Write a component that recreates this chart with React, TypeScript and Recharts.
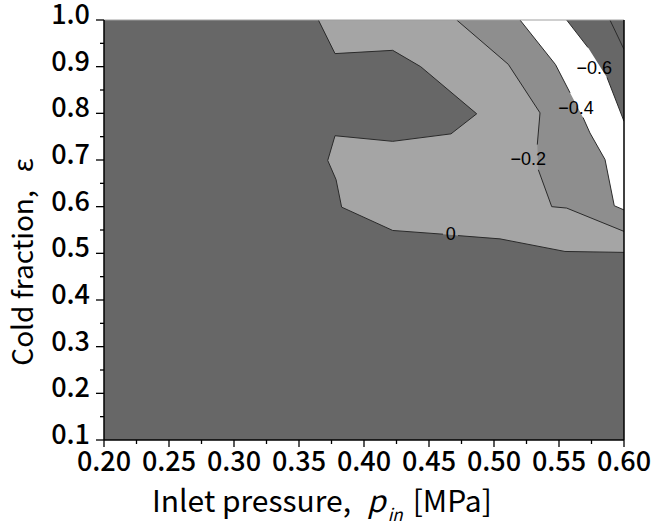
import React from "react";
import {
  ComposedChart,
  Area,
  Line,
  Scatter,
  XAxis,
  YAxis,
  CartesianGrid,
  ReferenceLine,
  Label,
} from "recharts";

// Contour map of the cold-side temperature difference over inlet pressure
// and cold fraction. Each level line is read off the figure as (p, eps)
// vertices; a null eps leaves a gap where the level label sits.

const FONT = '"Noto Sans CJK JP", "Noto Sans", sans-serif';
const LABEL_FONT = '"Liberation Sans", Arial, sans-serif';

const DARK = "#676767";
const LIGHT = "#a5a5a5";
const MID = "#8e8e8e";
const WHITE = "#ffffff";
const LINE = "#2a2a2a";

type Pt = { p: number; e: number | null };

const level0: Pt[] = [
  { p: 0.3649, e: 1.0 },
  { p: 0.3777, e: 0.928 },
  { p: 0.4221, e: 0.935 },
  { p: 0.4436, e: 0.9 },
  { p: 0.4867, e: 0.799 },
  { p: 0.4669, e: 0.756 },
  { p: 0.4221, e: 0.74 },
  { p: 0.3777, e: 0.752 },
  { p: 0.3721, e: 0.699 },
  { p: 0.3785, e: 0.658 },
  { p: 0.3828, e: 0.599 },
  { p: 0.4221, e: 0.549 },
  { p: 0.4608, e: 0.541 },
  { p: 0.4665, e: null },
  { p: 0.4723, e: 0.538 },
  { p: 0.5046, e: 0.531 },
  { p: 0.5546, e: 0.504 },
  { p: 0.6, e: 0.502 },
];

const levelM02: Pt[] = [
  { p: 0.4713, e: 1.0 },
  { p: 0.511, e: 0.905 },
  { p: 0.5354, e: 0.801 },
  { p: 0.5333, e: 0.733 },
  { p: 0.5337, e: null },
  { p: 0.5341, e: 0.679 },
  { p: 0.5444, e: 0.6 },
  { p: 0.5559, e: 0.597 },
  { p: 0.6, e: 0.547 },
];

const levelM04: Pt[] = [
  { p: 0.52, e: 1.0 },
  { p: 0.5473, e: 0.9045 },
  { p: 0.5585, e: 0.844 },
  { p: 0.5635, e: null },
  { p: 0.5685, e: 0.791 },
  { p: 0.5738, e: 0.758 },
  { p: 0.5854, e: 0.701 },
  { p: 0.5925, e: 0.602 },
  { p: 0.6, e: 0.593 },
];

const levelM06: Pt[] = [
  { p: 0.5559, e: 1.0 },
  { p: 0.5723, e: 0.941 },
  { p: 0.5796, e: null },
  { p: 0.5869, e: 0.877 },
  { p: 0.6, e: 0.783 },
];

const levelM08: Pt[] = [
  { p: 0.5892, e: 1.0 },
  { p: 0.6, e: 0.937 },
];

const levelLabels = [
  { p: 0.4667, e: 0.5409, text: "0" },
  { p: 0.5264, e: 0.7024, text: "\u22120.2" },
  { p: 0.5631, e: 0.8116, text: "\u22120.4" },
  { p: 0.5771, e: 0.8974, text: "\u22120.6" },
];

const xTicks = [
  0.2, 0.225, 0.25, 0.275, 0.3, 0.325, 0.35, 0.375, 0.4, 0.425, 0.45, 0.475,
  0.5, 0.525, 0.55, 0.575, 0.6,
];
const yTicks = [
  0.1, 0.15, 0.2, 0.25, 0.3, 0.35, 0.4, 0.45, 0.5, 0.55, 0.6, 0.65, 0.7, 0.75,
  0.8, 0.85, 0.9, 0.95, 1.0,
];

// region below each level = everything up-right of the line, closed along the top edge
const solid = (pts: Pt[]) => pts.filter((d) => d.e !== null);

const isMajor = (v: number, per: number) => Math.abs(v * per - Math.round(v * per)) < 1e-6;

function XTick({ x, y, payload }: any) {
  const v = payload.value as number;
  const major = isMajor(v, 20);
  return (
    <g>
      <line x1={x} x2={x} y1={y} y2={y + (major ? 7 : 4)} stroke="#000" strokeWidth={1.3} />
      {major && (
        <text
          x={x}
          y={y + 31}
          textAnchor="middle"
          fontSize={27}
          fontWeight={500}
          fontFamily={FONT}
          fill="#000"
        >
          {v.toFixed(2)}
        </text>
      )}
    </g>
  );
}

function YTick({ x, y, payload }: any) {
  const v = payload.value as number;
  const major = isMajor(v, 10);
  return (
    <g>
      <line x1={x - (major ? 8 : 4)} x2={x} y1={y} y2={y} stroke="#000" strokeWidth={1.3} />
      {major && (
        <text
          x={x - 14}
          y={y + 4}
          textAnchor="end"
          fontSize={27}
          fontWeight={500}
          fontFamily={FONT}
          fill="#000"
        >
          {v.toFixed(1)}
        </text>
      )}
    </g>
  );
}

function XTitle({ viewBox }: any) {
  const x = viewBox.x + 48;
  const y = viewBox.y + 72;
  return (
    <text x={x} y={y} fontSize={30} fontFamily={FONT} fill="#000">
      Inlet pressure,
      <tspan dx={16} fontStyle="italic">p</tspan>
      <tspan dy={9} dx={2} fontSize={17} fontStyle="italic">in</tspan>
      <tspan dy={-9} dx={10}>[MPa]</tspan>
    </text>
  );
}

function YTitle({ viewBox }: any) {
  const x = viewBox.x + 33;
  const y = viewBox.y + viewBox.height / 2 + 32;
  return (
    <text
      x={x}
      y={y}
      transform={`rotate(-90 ${x} ${y})`}
      textAnchor="middle"
      fontSize={28}
      fontFamily={FONT}
      fill="#000"
    >
      Cold fraction,<tspan dx={18}>ε</tspan>
    </text>
  );
}

function LevelText(props: any) {
  const { cx, cy, payload } = props;
  return (
    <text
      x={cx}
      y={cy}
      textAnchor="middle"
      dominantBaseline="central"
      fontSize={18}
      fontFamily={LABEL_FONT}
      fill="#000"
    >
      {payload.text}
    </text>
  );
}

const regions = [
  { key: "r0", data: solid(level0), fill: LIGHT },
  { key: "r02", data: solid(levelM02), fill: MID },
  { key: "r04", data: solid(levelM04), fill: WHITE },
  { key: "r06", data: solid(levelM06), fill: DARK },
];

const levels = [level0, levelM02, levelM04, levelM06, levelM08];

export default function App() {
  return (
    <div style={{ position: "absolute", left: 0, top: 0, background: "#fff" }}>
      <ComposedChart
        width={652}
        height={527}
        margin={{ top: 20, right: 28, left: 0, bottom: 0 }}
      >
        <CartesianGrid fill={DARK} fillOpacity={1} horizontal={false} vertical={false} stroke="none" />
        <XAxis
          type="number"
          dataKey="p"
          domain={[0.2, 0.6]}
          allowDataOverflow
          ticks={xTicks}
          interval={0}
          height={87}
          tickSize={0}
          tickMargin={0}
          tick={<XTick />}
          axisLine={{ stroke: "#000", strokeWidth: 1.5 }}
        >
          <Label content={<XTitle />} />
        </XAxis>
        <YAxis
          type="number"
          dataKey="e"
          domain={[0.1, 1.0]}
          allowDataOverflow
          ticks={yTicks}
          interval={0}
          width={104}
          tickSize={0}
          tickMargin={0}
          tick={<YTick />}
          axisLine={{ stroke: "#000", strokeWidth: 1.5 }}
        >
          <Label content={<YTitle />} />
        </YAxis>
        {regions.map((r) => (
          <Area
            key={r.key}
            data={r.data}
            dataKey="e"
            type="linear"
            baseValue="dataMax"
            fill={r.fill}
            fillOpacity={1}
            stroke="none"
            dot={false}
            activeDot={false}
            isAnimationActive={false}
          />
        ))}
        {levels.map((lv, i) => (
          <Line
            key={`lv${i}`}
            data={lv}
            dataKey="e"
            type="linear"
            stroke={LINE}
            strokeWidth={1}
            dot={false}
            activeDot={false}
            isAnimationActive={false}
          />
        ))}
        <ReferenceLine y={1.0} stroke="#a0a0a0" strokeWidth={1} />
        <ReferenceLine x={0.6} stroke="#000" strokeWidth={1.5} />
        <Scatter data={levelLabels} dataKey="e" shape={<LevelText />} isAnimationActive={false} />
      </ComposedChart>
    </div>
  );
}
